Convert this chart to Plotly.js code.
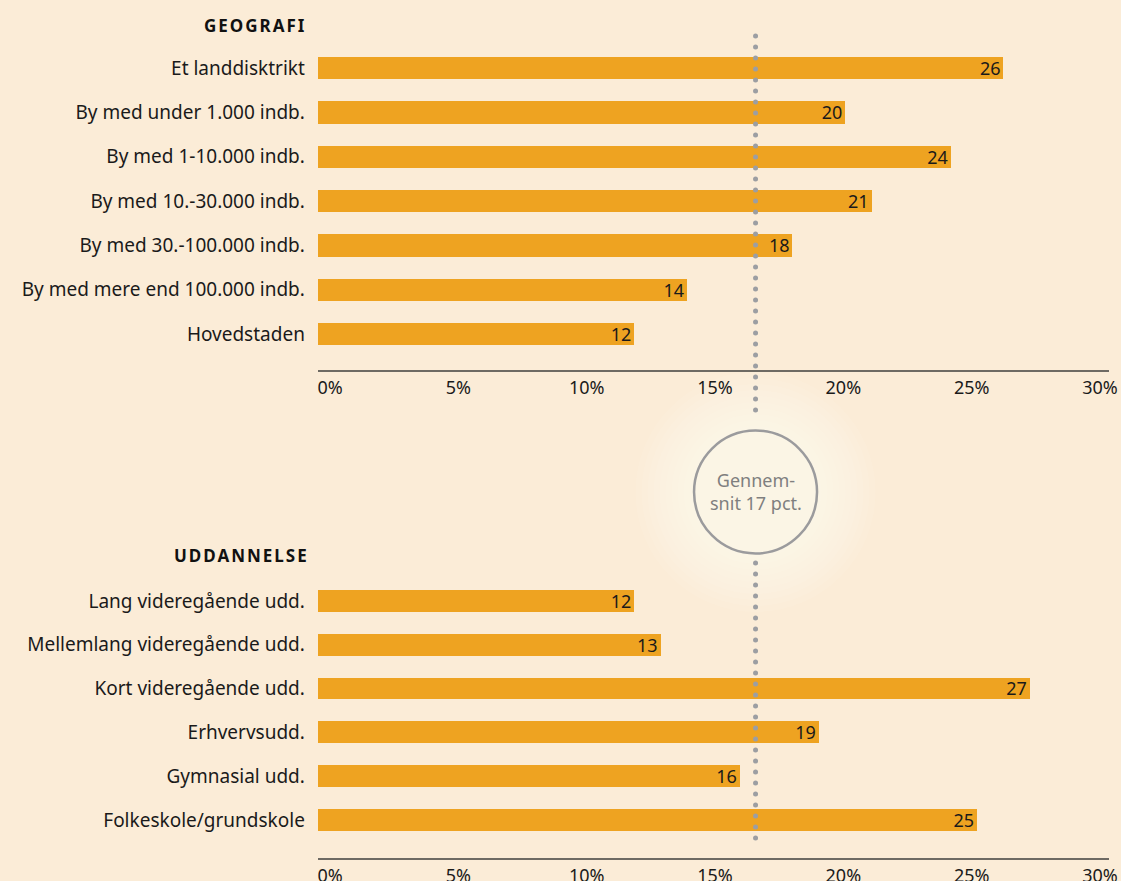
<!DOCTYPE html>
<html>
<head>
<meta charset="utf-8">
<script src="https://cdn.plot.ly/plotly-3.0.1.min.js"></script>
<style>
  html, body { margin: 0; padding: 0; background: #FBECD7; }
  #chart { width: 1121px; height: 881px; }
  g.annotation[data-index="0"] text, g.annotation[data-index="1"] text { letter-spacing: 2px; }
  .shapelayer path { stroke-linecap: round; }
</style>
</head>
<body>
<div id="chart"></div>
<script>
// ---- data ----
const geoTitle = 'GEOGRAFI';
const geoCats = ['Et landdisktrikt', 'By med under 1.000 indb.', 'By med 1-10.000 indb.',
  'By med 10.-30.000 indb.', 'By med 30.-100.000 indb.', 'By med mere end 100.000 indb.', 'Hovedstaden'];
const geoVals = [26, 20, 24, 21, 18, 14, 12];

const eduTitle = 'UDDANNELSE';
const eduCats = ['Lang videregående udd.', 'Mellemlang videregående udd.', 'Kort videregående udd.',
  'Erhvervsudd.', 'Gymnasial udd.', 'Folkeskole/grundskole'];
const eduVals = [12, 13, 27, 19, 16, 25];

const avgValue = 16.6;
const avgLabel = 'Gennem-<br>snit 17 pct.';
const tickVals = [0, 5, 10, 15, 20, 25, 30];
const tickText = ['0%', '5%', '10%', '15%', '20%', '25%', '30%'];

// ---- styling / layout ----
const W = 1121, H = 881;
const FONT = 'Noto Sans, Open Sans, sans-serif';
const BAR = '#EEA321';
const TXT = '#1a1a1a';
const py = p => 1 - p / H;
const px = p => p / W;

const barCommon = {
  type: 'bar', orientation: 'h', width: 0.5,
  marker: { color: BAR, line: { width: 0 } },
  textposition: 'inside', insidetextanchor: 'end', constraintext: 'none', textangle: 0,
  textfont: { family: FONT, size: 18, color: TXT },
  hoverinfo: 'skip', showlegend: false, cliponaxis: false
};

const traces = [
  Object.assign({}, barCommon, { x: geoVals, y: geoCats, text: geoVals.map(String), xaxis: 'x', yaxis: 'y' }),
  Object.assign({}, barCommon, { x: eduVals, y: eduCats, text: eduVals.map(String), xaxis: 'x2', yaxis: 'y2' }),
  { type: 'scatter', mode: 'markers', x: [tickVals[0], tickVals[tickVals.length - 1]], y: [geoCats[0], geoCats[0]],
    marker: { opacity: 0 }, xaxis: 'x3', yaxis: 'y', hoverinfo: 'skip', showlegend: false },
  { type: 'scatter', mode: 'markers', x: [tickVals[0], tickVals[tickVals.length - 1]], y: [eduCats[0], eduCats[0]],
    marker: { opacity: 0 }, xaxis: 'x4', yaxis: 'y2', hoverinfo: 'skip', showlegend: false }
];

const barDomain = [px(317.7), px(1109)];
const lblDomain = [px(330), px(1100)];
const xLine = {
  range: [0, 30], domain: barDomain, showline: true, linecolor: '#6e6a63', linewidth: 1.5,
  showticklabels: false, showgrid: false, zeroline: false, ticks: '', fixedrange: true
};
const xLbl = {
  range: [0, 30], domain: lblDomain, showline: false, showgrid: false, zeroline: false,
  tickmode: 'array', tickvals: tickVals, ticktext: tickText,
  ticks: 'outside', ticklen: 1, tickcolor: 'rgba(0,0,0,0)',
  tickfont: { family: FONT, size: 18, color: TXT }, fixedrange: true
};
const yCommon = {
  type: 'category', showline: false, showgrid: false, zeroline: false,
  ticks: 'outside', ticklen: 8, tickcolor: 'rgba(0,0,0,0)',
  tickfont: { family: FONT, size: 19, color: TXT }, autorange: false, fixedrange: true
};

const cy = 492;
const glowRadii = [120, 114, 108, 102, 96, 90, 84, 78, 72, 66];
const glowShapes = glowRadii.map(r => ({
  type: 'circle', layer: 'below', xref: 'x', xsizemode: 'pixel', xanchor: avgValue, x0: -r, x1: r,
  yref: 'paper', ysizemode: 'pixel', yanchor: py(cy), y0: -r, y1: r,
  fillcolor: 'rgba(255,250,242,0.09)', line: { width: 0 }
}));

const layout = {
  width: W, height: H,
  margin: { l: 0, r: 0, t: 0, b: 0, pad: 0 },
  paper_bgcolor: '#FBECD7', plot_bgcolor: 'rgba(0,0,0,0)',
  showlegend: false, bargap: 0,
  font: { family: FONT, color: TXT },
  xaxis: Object.assign({}, xLine, { anchor: 'y' }),
  xaxis2: Object.assign({}, xLine, { anchor: 'y2' }),
  xaxis3: Object.assign({}, xLbl, { anchor: 'y' }),
  xaxis4: Object.assign({}, xLbl, { anchor: 'y2' }),
  yaxis: Object.assign({}, yCommon, { anchor: 'x', domain: [py(370), py(41.5)], range: [6.81, -0.6] }),
  yaxis2: Object.assign({}, yCommon, { anchor: 'x2', domain: [py(858), py(574.6)], range: [5.87, -0.6] }),
  shapes: glowShapes.concat([
    { type: 'circle', layer: 'above', xref: 'x', xsizemode: 'pixel', xanchor: avgValue, x0: -61.5, x1: 61.5,
      yref: 'paper', ysizemode: 'pixel', yanchor: py(cy), y0: -61.5, y1: 61.5,
      fillcolor: 'rgba(0,0,0,0)', line: { color: '#9b9b9d', width: 2.5 } },
    { type: 'line', layer: 'above', xref: 'x', x0: avgValue, x1: avgValue, yref: 'paper', y0: py(36), y1: py(421),
      line: { color: '#9c9ea2', width: 5, dash: '0px,11px' } },
    { type: 'line', layer: 'above', xref: 'x', x0: avgValue, x1: avgValue, yref: 'paper', y0: py(563), y1: py(848),
      line: { color: '#9c9ea2', width: 5, dash: '0px,11px' } }
  ]),
  annotations: [
    { text: geoTitle, xref: 'paper', yref: 'paper', x: px(301), y: py(25), xanchor: 'right', yanchor: 'middle',
      showarrow: false, font: { family: FONT, size: 17, color: '#111', weight: 'bold' } },
    { text: eduTitle, xref: 'paper', yref: 'paper', x: px(301), y: py(555), xanchor: 'right', yanchor: 'middle',
      showarrow: false, font: { family: FONT, size: 17, color: '#111', weight: 'bold' } },
    { text: avgLabel, xref: 'x', yref: 'paper', x: avgValue, y: py(491.5), xanchor: 'center', yanchor: 'middle',
      showarrow: false, align: 'center', font: { family: FONT, size: 18, color: '#7f7f7f' } }
  ]
};

Plotly.newPlot('chart', traces, layout, { staticPlot: true, displayModeBar: false });
</script>
</body>
</html>
